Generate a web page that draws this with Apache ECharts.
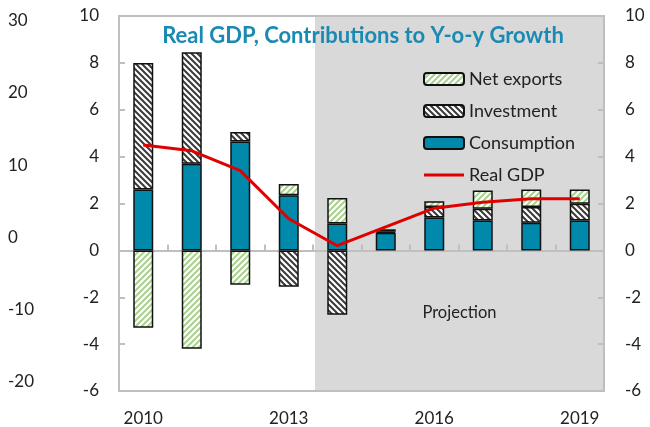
<!DOCTYPE html>
<html>
<head>
<meta charset="utf-8">
<script src="https://cdn.jsdelivr.net/npm/echarts@6/dist/echarts.min.js"></script>
<style>
  html, body { margin: 0; padding: 0; background: #fff; }
  #chart { width: 650px; height: 427px; }
</style>
</head>
<body>
<div id="chart"></div>
<script>
// data
const years = ['2010', '2011', '2012', '2013', '2014', '2015', '2016', '2017', '2018', '2019'];
const consumption = [2.6, 3.7, 4.65, 2.35, 1.15, 0.75, 1.4, 1.28, 1.18, 1.28];
const investment = [5.4, 4.75, 0.4, -1.55, -2.75, 0.05, 0.45, 0.5, 0.67, 0.71];
const netExports = [-3.3, -4.2, -1.47, 0.48, 1.08, 0.1, 0.25, 0.78, 0.75, 0.61];
const realGdp = [4.5, 4.25, 3.4, 1.35, 0.2, 1.0, 1.8, 2.05, 2.2, 2.2];
const projectionFrom = 3.54; // position on the category scale where the shading starts

const FONT = 'Lato';

// hatch patterns
function hatch(color, dir) {
  const s = 6;
  const c = document.createElement('canvas');
  c.width = s; c.height = s;
  const ctx = c.getContext('2d');
  ctx.fillStyle = '#fff';
  ctx.fillRect(0, 0, s, s);
  ctx.strokeStyle = color;
  ctx.lineWidth = 2;
  ctx.beginPath();
  if (dir === 'back') {
    // "\" lines
    ctx.moveTo(0, 0); ctx.lineTo(s, s);
    ctx.moveTo(-s, 0); ctx.lineTo(s, s * 2);
    ctx.moveTo(0, -s); ctx.lineTo(s * 2, s);
  } else {
    // "/" lines
    ctx.moveTo(0, s); ctx.lineTo(s, 0);
    ctx.moveTo(-s, s); ctx.lineTo(s, -s);
    ctx.moveTo(0, s * 2); ctx.lineTo(s * 2, 0);
  }
  ctx.stroke();
  return { image: c, repeat: 'repeat' };
}

const myChart = echarts.init(document.getElementById('chart'));

const barStyle = { borderColor: '#111', borderWidth: 1.5 };

const option = {
  animation: false,
  title: {
    text: 'Real GDP, Contributions to Y-o-y Growth',
    left: 358,
    textAlign: 'center',
    top: 20,
    textStyle: { fontFamily: FONT, fontSize: 22, fontWeight: 'bold', color: '#1a8ab3' }
  },
  legend: {
    data: ['Net exports', 'Investment', 'Consumption',
      { name: 'Real GDP', icon: 'path://M0,0 L40,0 L40,3 L0,3 Z' }],
    orient: 'vertical',
    left: 418,
    top: 65,
    itemWidth: 40,
    itemHeight: 12,
    itemGap: 14,
    textStyle: { fontFamily: FONT, fontSize: 18, color: '#222' }
  },
  grid: [
    {
      left: 119, right: 46, top: 16, bottom: 36,
      show: true, borderColor: '#bfbfbf', borderWidth: 2, z: 2
    },
    { left: 8, width: 20, top: 20.7, bottom: 45.3 }
  ],
  xAxis: [
    {
      type: 'category', data: years, gridIndex: 0, z: 2,
      axisLine: { onZero: true, lineStyle: { color: '#bfbfbf', width: 2 } },
      axisTick: { show: true, inside: true, length: 6, lineStyle: { color: '#bfbfbf', width: 2 } },
      axisLabel: { show: false }
    },
    {
      type: 'category', data: years, gridIndex: 0, position: 'bottom',
      axisLine: { show: false, onZero: false }, axisTick: { show: false },
      axisLabel: { interval: 2, margin: 19, fontFamily: FONT, fontSize: 17, color: '#222' }
    },
    {
      type: 'value', gridIndex: 0, min: -0.5, max: 9.5, show: false,
      axisLine: { onZero: false }
    },
    {
      type: 'value', gridIndex: 1, min: 0, max: 1, show: false,
      axisLine: { onZero: false }
    }
  ],
  yAxis: [
    {
      type: 'value', gridIndex: 0, min: -6, max: 10, interval: 2, z: 2,
      axisLine: { show: false, onZero: false },
      axisTick: { show: true, inside: true, length: 6, lineStyle: { color: '#bfbfbf', width: 2 } },
      splitLine: { show: false },
      axisLabel: { margin: 20, fontFamily: FONT, fontSize: 17, color: '#222' }
    },
    {
      type: 'value', gridIndex: 0, position: 'right', min: -6, max: 10, interval: 2, z: 2,
      axisLine: { show: false, onZero: false },
      axisTick: { show: true, inside: true, length: 6, lineStyle: { color: '#bfbfbf', width: 2 } },
      splitLine: { show: false },
      axisLabel: { margin: 21, fontFamily: FONT, fontSize: 17, color: '#222' }
    },
    {
      type: 'value', gridIndex: 1, position: 'left', min: -20, max: 30, interval: 10,
      axisLine: { show: false, onZero: false }, axisTick: { show: false }, splitLine: { show: false },
      axisLabel: { margin: 0, align: 'left', fontFamily: FONT, fontSize: 17, color: '#222' }
    }
  ],
  series: [
    {
      name: 'shade', type: 'line', xAxisIndex: 2, yAxisIndex: 0, data: [], z: 1,
      silent: true, symbol: 'none',
      markArea: {
        silent: true,
        itemStyle: { color: '#d9d9d9' },
        label: {
          show: true, position: ['50%', '79%'], align: 'center', verticalAlign: 'middle',
          formatter: 'Projection', fontFamily: FONT, fontSize: 16.5, color: '#222'
        },
        data: [[{ xAxis: projectionFrom }, { xAxis: 9.5 }]]
      }
    },
    {
      name: 'Consumption', type: 'bar', stack: 'gdp', barWidth: 20, z: 3,
      itemStyle: Object.assign({ color: '#0089ab' }, barStyle),
      data: consumption
    },
    {
      name: 'Investment', type: 'bar', stack: 'gdp', barWidth: 20, z: 3,
      itemStyle: Object.assign({ color: hatch('#3a3a3a', 'back') }, barStyle),
      data: investment
    },
    {
      name: 'Net exports', type: 'bar', stack: 'gdp', barWidth: 20, z: 3,
      itemStyle: Object.assign({ color: hatch('#a9d18e', 'fwd') }, barStyle),
      data: netExports
    },
    {
      name: 'Real GDP', type: 'line', z: 4,
      symbol: 'none', showSymbol: false,
      lineStyle: { color: '#e00000', width: 3 },
      itemStyle: { color: '#e00000' },
      data: realGdp
    }
  ]
};

myChart.setOption(option);
</script>
</body>
</html>
